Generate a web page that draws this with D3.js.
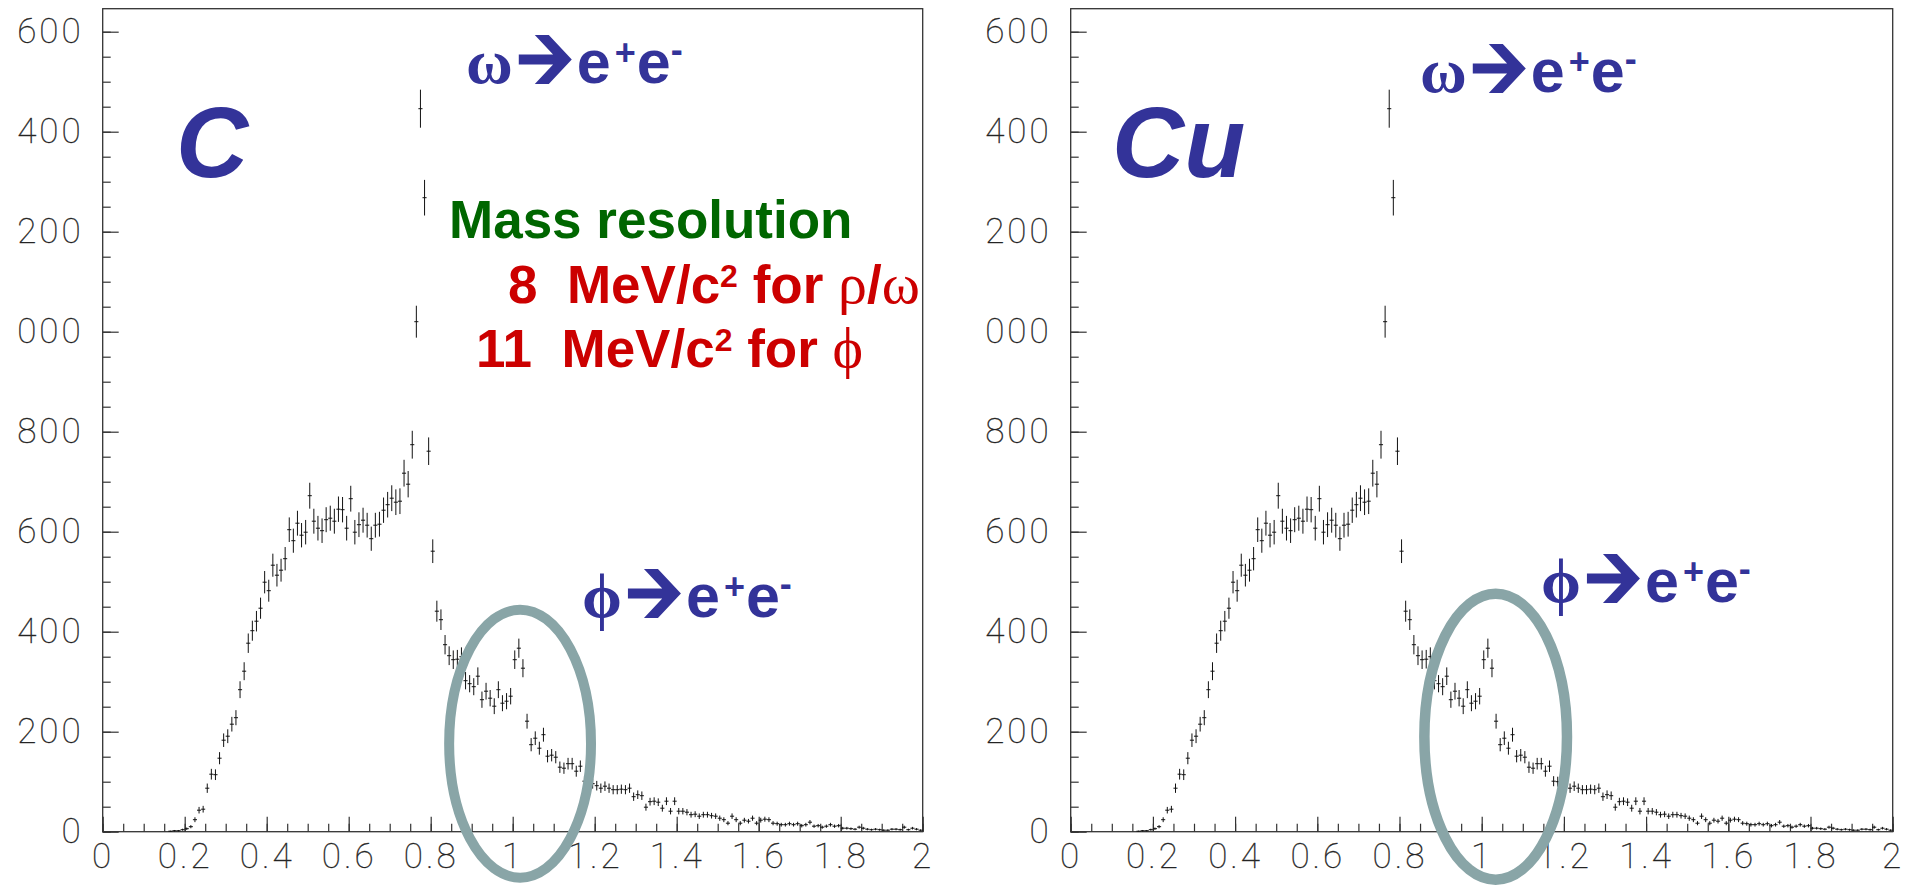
<!DOCTYPE html>
<html>
<head>
<meta charset="utf-8">
<script src="https://cdn.jsdelivr.net/npm/d3@7"></script>
<style>
    body { margin: 0; background: #fff; }
    #chart-area { width: 1907px; height: 885px; }
    .axis text { font-family: Roboto, "DejaVu Sans", sans-serif; font-weight: 100; font-size: 35px; fill: #111; stroke: #333; stroke-width: 0.35; letter-spacing: 3px; }
    .axis line { stroke: #333; stroke-width: 1.2; }
    .axis path { display: none; }
    .frame { fill: none; stroke: #333; stroke-width: 1.3; }
    .bar { stroke: #111; stroke-width: 1; }
    .sans { font-family: "Liberation Sans", Arial, sans-serif; font-weight: bold; white-space: pre; }
    .serif { font-family: "Liberation Serif", "Times New Roman", serif; }
</style>
</head>
<body>
<div id="chart-area"></div>
<script>

// e+e- invariant mass histogram (GeV/c^2), 10 MeV bins starting at 0.16
const binLow = 0.16;
const binWidth = 0.01;
const counts = [
    1, 2, 2, 4,
    6, 10, 24, 43, 45, 87, 115, 114, 147, 183,
    191, 215, 228, 284, 321, 377, 402, 421, 447, 499,
    482, 533, 513, 523, 546, 604, 582, 617, 593, 599,
    672, 621, 607, 602, 624, 627, 621, 645, 644, 607,
    666, 599, 614, 623, 613, 586, 613, 615, 643, 654,
    667, 659, 661, 717, 695, 774, 1020, 1446, 1268, 761,
    561, 441, 424, 374, 352, 344, 345, 350, 302, 296,
    290, 311, 264, 281, 267, 251, 284, 257, 261, 271,
    344, 367, 327, 221, 174, 187, 167, 194, 151, 153,
    149, 129, 127, 136, 136, 121, 131, 101, 100, 96,
    92, 87, 91, 87, 84, 84, 85, 84, 87, 70,
    74, 72, 49, 60, 61, 59, 47, 61, 41, 61,
    41, 41, 39, 34, 35, 31, 34, 34, 32, 31,
    27, 24, 17, 31, 24, 17, 23, 21, 27, 17,
    23, 25, 24, 17, 16, 14, 14, 16, 14, 16,
    12, 14, 19, 11, 12, 9, 11, 14, 11, 12,
    7, 7, 6, 5, 9, 7, 5, 4, 5, 4,
    3, 3, 5, 5, 4, 9, 4, 7, 5, 3
];

// axis ticks (the picture is cropped, so the leading "1" of 1000..1600 is cut off)
const xTicks = [0, 0.2, 0.4, 0.6, 0.8, 1, 1.2, 1.4, 1.6, 1.8, 2];
const xTickLabels = ["0", "0.2", "0.4", "0.6", "0.8", "1", "1.2", "1.4", "1.6", "1.8", "2"];
const xMinorTicks = d3.range(0, 2.001, 0.05);
const yTicks = [0, 200, 400, 600, 800, 1000, 1200, 1400, 1600];
const yTickLabels = ["0", "200", "400", "600", "800", "000", "200", "400", "600"];
const yMinorTicks = d3.range(0, 1650, 50);

// target nucleus of each panel
const targets = ["C", "Cu"];


class MassPanel {

    constructor(svg, target, layout) {
        this.svg = svg;
        this.target = target;
        this.layout = layout;
        this.initVis();
    }

    initVis() {
        let vis = this;
        let L = vis.layout;

        vis.g = vis.svg.append("g");

        vis.x = d3.scaleLinear().domain([0, 2]).range([L.left, L.right]);
        vis.y = d3.scaleLinear().domain([0, 1600]).range([831.7, 31.7]);

        // frame
        vis.g.append("rect")
            .attr("class", "frame")
            .attr("x", L.left)
            .attr("y", vis.y(1646))
            .attr("width", L.right - L.left)
            .attr("height", vis.y(0) - vis.y(1646));

        // axes, ticks pointing inwards
        vis.g.append("g")
            .attr("class", "axis")
            .attr("transform", "translate(" + L.left + ",0)")
            .call(d3.axisLeft(vis.y).tickValues(yMinorTicks).tickSize(-8).tickFormat(""));
        vis.g.append("g")
            .attr("class", "axis")
            .attr("transform", "translate(" + L.left + ",0)")
            .call(d3.axisLeft(vis.y).tickValues(yTicks).tickSize(-16).tickPadding(19)
                .tickFormat((d, i) => yTickLabels[i]));

        vis.g.append("g")
            .attr("class", "axis")
            .attr("transform", "translate(0," + vis.y(0) + ")")
            .call(d3.axisBottom(vis.x).tickValues(xMinorTicks).tickSize(-8).tickFormat(""));
        vis.g.append("g")
            .attr("class", "axis")
            .attr("transform", "translate(0," + vis.y(0) + ")")
            .call(d3.axisBottom(vis.x).tickValues(xTicks).tickSize(-15).tickPadding(11)
                .tickFormat((d, i) => xTickLabels[i]));

        vis.wrangleData();
    }

    wrangleData() {
        let vis = this;

        vis.bins = counts.map((n, i) => ({
            lo: binLow + i * binWidth,
            mid: binLow + (i + 0.5) * binWidth,
            hi: binLow + (i + 1) * binWidth,
            n: n,
            err: Math.sqrt(n)
        })).filter(d => d.n > 0);

        vis.updateVis();
    }

    updateVis() {
        let vis = this;
        let L = vis.layout;

        let pts = vis.g.append("g").selectAll("g.pt")
            .data(vis.bins)
            .enter()
            .append("g")
            .attr("class", "pt");

        pts.append("line")
            .attr("class", "bar")
            .attr("x1", d => vis.x(d.mid))
            .attr("x2", d => vis.x(d.mid))
            .attr("y1", d => vis.y(d.n - d.err))
            .attr("y2", d => vis.y(d.n + d.err));

        pts.append("line")
            .attr("class", "bar")
            .attr("x1", d => vis.x(d.lo))
            .attr("x2", d => vis.x(d.hi))
            .attr("y1", d => vis.y(d.n))
            .attr("y2", d => vis.y(d.n));

        // nucleus label
        vis.g.append("text")
            .attr("class", "sans")
            .attr("x", L.nucleus[0])
            .attr("y", L.nucleus[1])
            .style("font-style", "italic")
            .style("font-size", "100px")
            .style("fill", "#333399")
            .text(vis.target);

        vis.decayLabel(L.omega, "ω");
        vis.decayLabel(L.phi, "ϕ");

        if (L.resolution) vis.resolutionText();

        // circle round the phi peak
        let E = L.ellipse;
        vis.g.append("ellipse")
            .attr("cx", vis.x(E.cx))
            .attr("cy", vis.y(E.cy))
            .attr("rx", vis.x(E.cx + E.rx) - vis.x(E.cx))
            .attr("ry", vis.y(0) - vis.y(E.ry))
            .attr("fill", "none")
            .attr("stroke", "#89a5a7")
            .attr("stroke-width", E.w);
    }

    decayLabel(pos, greek) {
        let vis = this;
        let g = vis.g.append("g").attr("fill", "#333399");

        let t = g.append("text")
            .attr("class", "serif")
            .attr("x", pos[0])
            .attr("y", pos[1])
            .style("font-size", "64px")
            .style("font-weight", "bold")
            .text(greek);
        let a = pos[0] + t.node().getComputedTextLength();
        let b = pos[1];

        let arrow = [[6, -28.5], [40.3, -28.5], [22, -48], [36, -48], [59, -23.5],
            [36, 1], [22, 1], [40.3, -18.5], [6, -18.5]];
        g.append("path")
            .attr("d", "M" + arrow.map(p => (a + p[0]) + "," + (b + p[1])).join("L") + "Z");

        let e = g.append("text")
            .attr("class", "sans")
            .attr("x", a + 64)
            .attr("y", b)
            .style("font-size", "61px");
        e.append("tspan").text("e");
        e.append("tspan").attr("dx", 4).attr("dy", -18).style("font-size", "36px").text("+");
        e.append("tspan").attr("dx", 1).attr("dy", 18).text("e");
        e.append("tspan").attr("dy", -21).style("font-size", "36px").text("-");
    }

    resolutionText() {
        let vis = this;

        vis.g.append("text")
            .attr("class", "sans")
            .attr("x", 449)
            .attr("y", 238)
            .style("font-size", "53px")
            .style("fill", "#006600")
            .text("Mass resolution");

        let lines = [
            {x: 508, y: 303, n: "8", meson: ["ρ", "/", "ω"]},
            {x: 476, y: 367, n: "11", meson: ["ϕ"]}
        ];
        lines.forEach(l => {
            let t = vis.g.append("text")
                .attr("class", "sans")
                .attr("x", l.x)
                .attr("y", l.y)
                .style("font-size", "53px")
                .style("fill", "#cc0000");
            t.append("tspan").text(l.n + "  MeV/c");
            t.append("tspan").attr("dy", -16).style("font-size", "32px").text("2");
            t.append("tspan").attr("dy", 16).text(" for ");
            l.meson.forEach(s => {
                let sp = t.append("tspan").text(s);
                if (s !== "/") sp.attr("class", "serif").style("font-weight", "normal").style("font-size", "58px");
            });
        });
    }
}


let svg = d3.select("#chart-area").append("svg")
    .attr("width", 1907)
    .attr("height", 885);

new MassPanel(svg, targets[0], {
    left: 102.7, right: 922.7,
    nucleus: [176, 177],
    omega: [466, 83],
    phi: [582, 617],
    ellipse: {cx: 1.018, cy: 176, rx: 0.173, ry: 268, w: 10},
    resolution: true
});

new MassPanel(svg, targets[1], {
    left: 1070.7, right: 1892.7,
    nucleus: [1112, 177],
    omega: [1420, 92],
    phi: [1541, 602],
    ellipse: {cx: 1.034, cy: 190, rx: 0.1735, ry: 286, w: 10.5},
    resolution: false
});

</script>
</body>
</html>
